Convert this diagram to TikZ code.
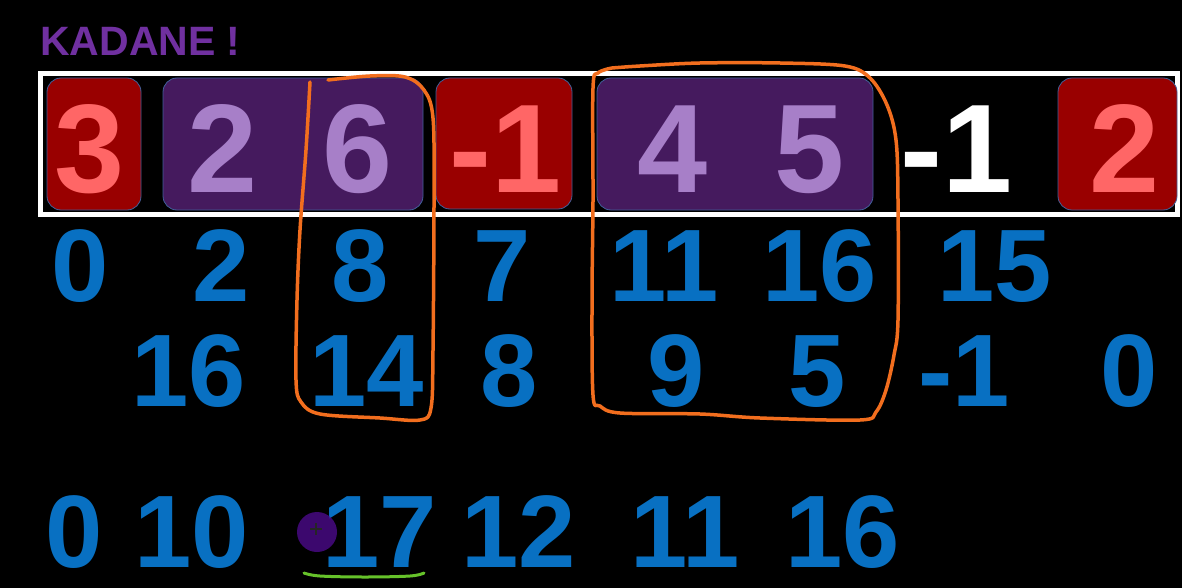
\documentclass[tikz,border=0pt]{standalone}
\usepackage{fontspec}
\setmainfont{Liberation Sans}
\definecolor{cellred}{HTML}{990000}
\definecolor{cellpurple}{HTML}{451A5E}
\definecolor{boxedge}{HTML}{41609A}
\definecolor{redtxt}{HTML}{FF6666}
\definecolor{purtxt}{HTML}{A77FC8}
\definecolor{numblue}{HTML}{0870C2}
\definecolor{loopor}{HTML}{F26E1E}
\definecolor{titlepur}{HTML}{7030A0}
\definecolor{ugreen}{HTML}{66C22A}
\definecolor{cursorpur}{HTML}{4B0A8A}
\begin{document}
\begin{tikzpicture}[x=1pt,y=-1pt,
  cell/.style={rounded corners=14pt, draw=boxedge, line width=0.8pt, inner sep=0pt},
  redcell/.style={cell, fill=cellred},
  purplecell/.style={cell, fill=cellpurple},
  big/.style={font=\fontsize{126}{126}\selectfont\bfseries, anchor=base, inner sep=0pt},
  num/.style={font=\fontsize{103}{103}\selectfont\bfseries, anchor=base, inner sep=0pt, text=numblue},
  loopline/.style={draw=loopor, line width=3.5pt, line cap=round, line join=round},
  ]
\fill[black] (0,0) rectangle (1182,588);
\useasboundingbox (0,0) rectangle (1182,588);
% title
\node[anchor=base west, inner sep=0pt, text=titlepur, font=\fontsize{41}{41}\selectfont\bfseries] (title) at (40,56) {KADANE !};
% frame
\draw[white, line width=5pt] (40,74) rectangle (1177,214);
% cells
\node[redcell, minimum width=94pt, minimum height=132pt] (c1) at (94,144) {};
\node[purplecell, minimum width=260pt, minimum height=132pt] (c2) at (293,144) {};
\node[redcell, minimum width=136pt, minimum height=131pt] (c3) at (504,143.5) {};
\node[purplecell, minimum width=276pt, minimum height=132pt] (c4) at (735,144) {};
\node[redcell, minimum width=119pt, minimum height=132pt] (c5) at (1117.5,144) {};
% row 1
\node[big, text=redtxt] (a1) at (90,193) {3};
\node[big, text=purtxt] (a2) at (223,193) {2};
\node[big, text=purtxt] (a3) at (358,193) {6};
\node[big, text=redtxt] (a4) at (506,193) {-1};
\node[big, text=purtxt] (a5) at (673,193) {4};
\node[big, text=purtxt] (a6) at (810,193) {5};
\node[big, text=white] (a7) at (957,193) {-1};
\node[big, text=redtxt] (a8) at (1125,193) {2};
% row 2
\node[num] (p1) at (80,301) {0};
\node[num] (p2) at (221,301) {2};
\node[num] (p3) at (360,301) {8};
\node[num] (p4) at (502,301) {7};
\node[num] (p5) at (664,301) {11};
\node[num] (p6) at (820,301) {16};
\node[num] (p7) at (995,301) {15};
% row 3
\node[num] (s1) at (189,406) {16};
\node[num] (s2) at (367,406) {14};
\node[num] (s3) at (509,406) {8};
\node[num] (s4) at (676,406) {9};
\node[num] (s5) at (817,406) {5};
\node[num] (s6) at (964,406) {-1};
\node[num] (s7) at (1129,406) {0};
% row 4
\node[num] (t1) at (74,567) {0};
\node[num] (t2) at (192,567) {10};
\node[num] (t3) at (380,567) {17};
\node[num] (t4) at (519,567) {12};
\node[num] (t5) at (685,567) {11};
\node[num] (t6) at (843,567) {16};
% orange loops
\draw[loopline] plot[smooth, tension=0.55] coordinates {(310,82) (306,150) (300,230) (297,300) (296,380) (301,402) (320,414) (380,418) (420,420) (431,408) (433,350) (434,200) (433,118) (424,90) (405,77) (370,76) (328,80)};
\draw[loopline] plot[smooth, tension=0.55] coordinates {(612,68) (598,73) (593,88) (593,200) (592,300) (593,395) (600,406) (620,413) (700,414) (760,418) (860,420) (876,412) (886,390) (894,355) (898,320) (898,200) (896,140) (887,105) (870,78) (845,66) (780,63) (700,63) (640,66) (612,68)};
% green underline
\draw[draw=ugreen, line width=3pt, line cap=round] plot[smooth, tension=0.6] coordinates {(304,573) (320,576) (365,577) (410,576) (424,573)};
% cursor
\fill[cursorpur, opacity=0.8] (317,532) circle (20);
\draw[black!85, line width=1.2pt] (310,529) -- (322,529) (316,523) -- (316,535);
\end{tikzpicture}
\end{document}
